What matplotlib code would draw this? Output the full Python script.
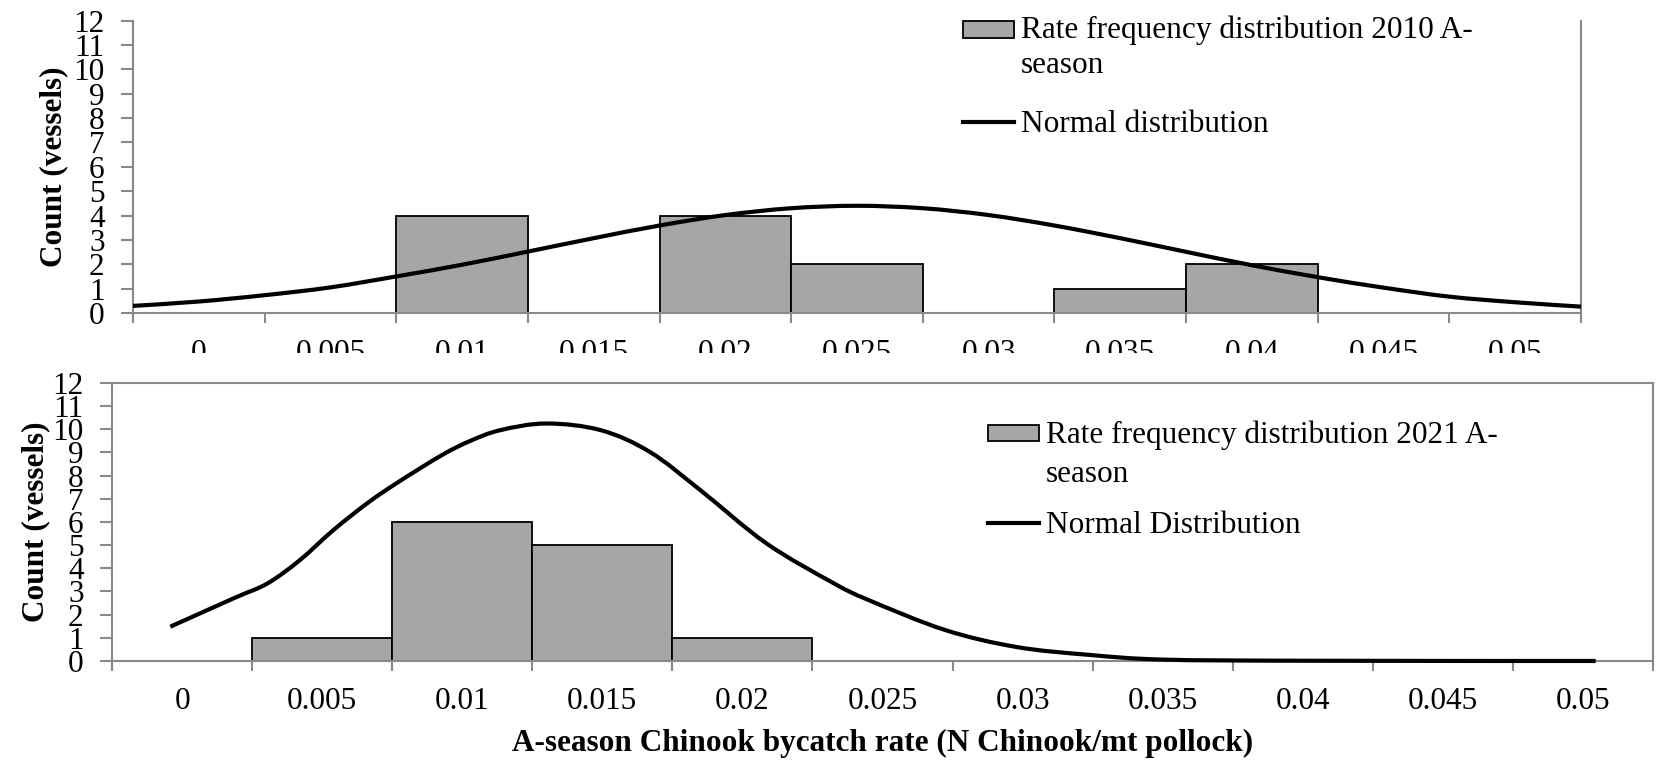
import numpy as np
import matplotlib
matplotlib.use("Agg")
from matplotlib import pyplot as plt
from matplotlib.patches import Rectangle, PathPatch
from matplotlib.path import Path
from matplotlib.legend_handler import HandlerPatch

plt.rcParams['font.family'] = ['Liberation Serif', 'DejaVu Serif']

# histogram bins (bin centres) and labels
bins = [0, 0.005, 0.01, 0.015, 0.02, 0.025, 0.03, 0.035, 0.04, 0.045, 0.05]
bin_labels = ['0', '0.005', '0.01', '0.015', '0.02', '0.025', '0.03',
              '0.035', '0.04', '0.045', '0.05']
counts_2010 = [0, 0, 4, 0, 4, 2, 0, 1, 2, 0, 0]
counts_2021 = [0, 1, 6, 5, 1, 0, 0, 0, 0, 0, 0]

# normal curves
curve_x_2010 = [-0.0025, 0.0, 0.0025, 0.005, 0.0075, 0.01, 0.0125, 0.015, 0.0175,
                0.02, 0.0225, 0.025, 0.0275, 0.03, 0.0325, 0.035, 0.0375, 0.04,
                0.0425, 0.045, 0.0475, 0.05, 0.0525]
curve_y_2010 = [0.29, 0.47, 0.73, 1.05, 1.50, 1.98, 2.52, 3.07, 3.59, 4.02, 4.30, 4.40,
                4.30, 4.02, 3.59, 3.07, 2.51, 1.96, 1.47, 1.04, 0.67, 0.44, 0.26]
curve_x_2021 = [-0.00042, 0.00185, 0.00305, 0.0042, 0.0054, 0.0066, 0.00765, 0.00925,
                0.01025, 0.01135, 0.013, 0.01495, 0.0167, 0.0185, 0.02085, 0.02325,
                0.0245, 0.02725, 0.0298, 0.0324, 0.035, 0.04, 0.05045]
curve_y_2021 = [1.48, 2.71, 3.35, 4.35, 5.65, 6.8, 7.67, 8.87, 9.48, 9.96, 10.25, 9.96,
                9.02, 7.37, 5.08, 3.36, 2.63, 1.33, 0.6, 0.26, 0.06, 0.01, 0.0]

GRAY = '#898989'
BAR = '#A6A6A6'
FS = 22.5


class FirstLineHandler(HandlerPatch):
    # put the key next to the first line of a two line label
    def __init__(self, lift, **kw):
        super().__init__(**kw)
        self.lift = lift

    def create_artists(self, legend, orig_handle, xdescent, ydescent, width, height, fontsize, trans):
        return super().create_artists(legend, orig_handle, xdescent, ydescent - self.lift * fontsize,
                                      width, height, fontsize, trans)


def smooth_line(xs, ys):
    # excel style smoothed line: catmull-rom segments as bezier curves
    p = np.column_stack([xs, ys])
    p = np.vstack([p[0], p, p[-1]])
    verts = [p[1]]
    codes = [Path.MOVETO]
    for i in range(1, len(p) - 2):
        c1 = p[i] + (p[i + 1] - p[i - 1]) / 6
        c2 = p[i + 1] - (p[i + 2] - p[i]) / 6
        verts += [c1, c2, p[i + 1]]
        codes += [Path.CURVE4] * 3
    return Path(verts, codes)


def draw_panel(ax, counts, cx, cy, bar_label, line_label, leg_xy, labelspacing, linespacing):
    xs = [b for b, c in zip(bins, counts) if c > 0]
    hs = [c for c in counts if c > 0]
    bars = ax.bar(xs, hs, width=0.005, color=BAR, edgecolor='black', linewidth=1.3, zorder=2)
    ax.add_patch(PathPatch(smooth_line(cx, cy), fill=False, edgecolor='black', lw=3,
                           capstyle='butt', zorder=3, clip_on=False))
    key, = ax.plot([], [], color='black', lw=3)

    ax.set_xlim(-0.0025, 0.0525)
    ax.set_ylim(0, 12)
    edges = [b - 0.0025 for b in bins] + [bins[-1] + 0.0025]
    ax.set_xticks(edges)
    ax.set_xticklabels([])
    ax.set_xticks(bins, minor=True)
    ax.set_xticklabels(bin_labels, minor=True)
    ax.set_yticks(range(13))
    ax.tick_params(axis='x', which='major', length=7.5, width=1.5, color=GRAY, direction='out')
    ax.tick_params(axis='x', which='minor', length=0, pad=19, labelsize=FS)
    ax.tick_params(axis='y', length=8.4, width=1.5, color=GRAY, pad=12, labelsize=FS)
    for s in ax.spines.values():
        s.set_color(GRAY)
        s.set_linewidth(1.5)

    lift = 0.5 * linespacing * 0.95
    leg = ax.legend([bars[0], key], [bar_label, line_label], loc='upper left',
                    bbox_to_anchor=leg_xy, bbox_transform=ax.figure.transFigure,
                    frameon=False, fontsize=FS, borderpad=0, borderaxespad=0,
                    handlelength=1.65, handleheight=0.44, handletextpad=0.2,
                    labelspacing=labelspacing,
                    handler_map={bars[0]: FirstLineHandler(lift)})
    for t in leg.texts:
        t.set_linespacing(linespacing)
    return leg


fig = plt.figure(figsize=(16.6, 7.6), dpi=100)
ax1 = fig.add_axes([0.0801, 0.5882, 0.8723, 0.3846])
ax2 = fig.add_axes([0.0675, 0.1303, 0.9283, 0.3658], zorder=2)

draw_panel(ax1, counts_2010, curve_x_2010, curve_y_2010,
           'Rate frequency distribution 2010 A-\nseason', 'Normal distribution',
           (0.580, 0.979), 0.95, 1.25)
ax1.spines['top'].set_visible(False)

draw_panel(ax2, counts_2021, curve_x_2021, curve_y_2021,
           'Rate frequency distribution 2021 A-\nseason', 'Normal Distribution',
           (0.595, 0.447), 0.7, 1.45)

ax1.set_ylabel('Count (vessels)', fontsize=FS, fontweight='bold')
ax1.yaxis.set_label_coords(-0.045, 0.5)
ax2.set_ylabel('Count (vessels)', fontsize=FS, fontweight='bold')
ax2.yaxis.set_label_coords(-0.040, 0.5)
ax2.set_xlabel('A-season Chinook bycatch rate (N Chinook/mt pollock)', fontsize=FS, fontweight='bold')
ax2.xaxis.set_label_coords(0.5, -0.245)

# lower chart area hides the bottom of the upper chart's labels
fig.patches.append(Rectangle((0, 0), 1, 1 - 353 / 760, transform=fig.transFigure,
                             facecolor='white', edgecolor='none', zorder=1))

plt.savefig('out.png', dpi=100)
